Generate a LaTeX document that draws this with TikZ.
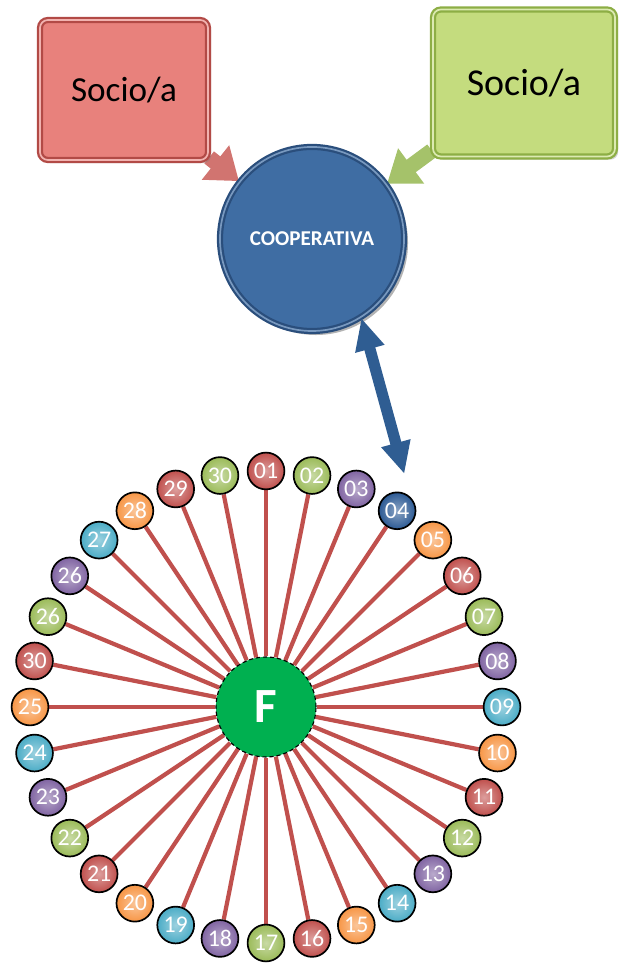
\documentclass[tikz,border=0pt]{standalone}
\usepackage{fontspec}
\setmainfont{Carlito}
\usepackage{xcolor}
\usetikzlibrary{arrows.meta, positioning, shadows, backgrounds}

\definecolor{socred}{HTML}{E8817C}
\definecolor{socrededge}{HTML}{B24A46}
\definecolor{socgreen}{HTML}{C4DC7E}
\definecolor{socgreenedge}{HTML}{8DAE45}
\definecolor{coopblue}{HTML}{3F6DA3}
\definecolor{coopedge}{HTML}{2A4E7C}
\definecolor{hubgreen}{HTML}{00B050}
\definecolor{spokered}{HTML}{C0504D}
\definecolor{cred}{HTML}{C0504D}
\definecolor{cgreen}{HTML}{9BBB59}
\definecolor{cpurple}{HTML}{8064A2}
\definecolor{ccyan}{HTML}{4BACC6}
\definecolor{corange}{HTML}{F79646}
\definecolor{cnavy}{HTML}{2C5A94}
\definecolor{linkblue}{HTML}{2F5D92}

\begin{document}
\begin{tikzpicture}[
    x=0.025cm, y=0.025cm,
    socio/.style={rectangle, rounded corners=0.2cm, line width=1.6pt, double distance=1.2pt, minimum width=4.2cm, minimum height=3.5cm,
        font=\fontsize{25}{28}\selectfont, drop shadow={shadow xshift=0.08cm, shadow yshift=-0.08cm, opacity=0.35}},
    coop/.style={circle, fill=coopblue, draw=coopedge, line width=1.6pt, double=coopblue!70!white, double distance=1.2pt,
        minimum size=4.6cm, text=white,
        font=\fontsize{15}{18}\selectfont\bfseries, drop shadow={shadow xshift=0.1cm, shadow yshift=-0.1cm, opacity=0.6}},
    hub/.style={circle, fill=hubgreen, draw=black, densely dashed, line width=0.8pt, minimum size=2.5cm, text=white,
        font=\fontsize{35}{40}\selectfont\bfseries},
    member/.style={circle, draw=black, line width=1.2pt, minimum size=0.92cm, inner sep=0pt, text=white,
        font=\fontsize{17}{18}\selectfont},
    spoke/.style={draw=spokered, line width=3pt},
    push/.style={-{Triangle[width=1.05cm, length=0.75cm]}, line width=11pt},
    link/.style={{Triangle[width=0.7cm, length=0.8cm]}-{Triangle[width=0.7cm, length=0.8cm]}, line width=8pt, draw=linkblue}
]
\useasboundingbox (0,0) rectangle (623,964);

% Socios and cooperative
\node[socio, fill=socred, draw=socrededge, double=socred!60!white] (s1) at (124,874) {Socio/a};
\node[socio, fill=socgreen, draw=socgreenedge, double=socgreen!60!white, minimum width=4.55cm, minimum height=3.675cm,
    font=\fontsize{27}{30}\selectfont] (s2) at (524,881) {Socio/a};
\node[coop] (coop) at (312,725) {COOPERATIVA};

% F with its members
\node[hub] (hub) at (266,257) {F};
\foreach \lab/\col [count=\i] in {01/cred, 02/cgreen, 03/cpurple, 04/cnavy, 05/corange, 06/cred, 07/cgreen, 08/cpurple,
    09/ccyan, 10/corange, 11/cred, 12/cgreen, 13/cpurple, 14/ccyan, 15/corange, 16/cred, 17/cgreen, 18/cpurple,
    19/ccyan, 20/corange, 21/cred, 22/cgreen, 23/cpurple, 24/ccyan, 25/corange, 30/cred, 26/cgreen, 26/cpurple,
    27/ccyan, 28/corange, 29/cred, 30/cgreen} {
    \node[member, inner color=\col!55!white, outer color=\col] (m\i) at ([shift={({90-(\i-1)*11.25}:236)}]hub) {\lab};
}

% Connectors
\begin{scope}[on background layer]
    \foreach \i in {1,...,32} \draw[spoke] (hub) -- (m\i);
    \draw[push, draw=socred!90!black] (s1) -- (coop);
    \draw[push, draw=cgreen!90!white] (s2) -- (coop);
\end{scope}
\draw[link, shorten >=0.6cm] (coop.-58) -- (m4.north east);

\end{tikzpicture}
\end{document}
